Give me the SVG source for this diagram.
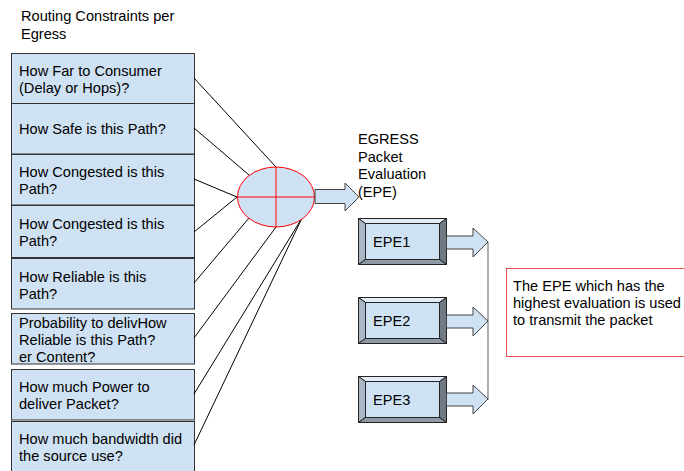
<svg xmlns="http://www.w3.org/2000/svg" width="684" height="471" viewBox="0 0 684 471">
<style>
text{font-family:"Liberation Sans",Arial,sans-serif;font-size:14.6px;fill:#000}
.box{fill:#cfe2f3;stroke:#333;stroke-width:1}
.con{stroke:#000;stroke-width:1;fill:none}
.arr{fill:#cfe2f3;stroke:#434343;stroke-width:1;stroke-linejoin:miter}
.bev{stroke:#222;stroke-width:1;stroke-linejoin:miter}
</style>
<defs>
<g id="bevel">
<rect x="0" y="0" width="88" height="46" fill="#cfe2f3"/>
<polygon class="bev" points="0,0 88,0 81,5 7,5" fill="#e3edf7"/>
<polygon class="bev" points="0,0 7,5 7,41 0,46" fill="#a9b6c3"/>
<polygon class="bev" points="88,0 88,46 81,41 81,5" fill="#6f7a85"/>
<polygon class="bev" points="0,46 7,41 81,41 88,46" fill="#8d99a5"/>
<rect x="7" y="5" width="74" height="36" fill="#cfe2f3" stroke="#222" stroke-width="1"/>
</g>
</defs>
<text x="21" y="20.5">Routing Constraints per</text>
<text x="21" y="38.5">Egress</text>
<g id="c1"><rect class="box" x="11.5" y="53.5" width="183" height="50"/><text x="19" y="76">How Far to Consumer</text><text x="19" y="93">(Delay or Hops)?</text></g>
<g id="c2"><rect class="box" x="11.5" y="103.5" width="183" height="50.5"/><text x="19" y="134">How Safe is this Path?</text></g>
<g id="c3"><rect class="box" x="11.5" y="154.5" width="183" height="50.5"/><text x="19" y="177">How Congested is this</text><text x="19" y="194">Path?</text></g>
<g id="c4"><rect class="box" x="11.5" y="205.5" width="183" height="52"/><text x="19" y="229">How Congested is this</text><text x="19" y="246">Path?</text></g>
<g id="c5"><rect class="box" x="11.5" y="258.5" width="183" height="50.5"/><text x="19" y="282">How Reliable is this</text><text x="19" y="299">Path?</text></g>
<g id="c6"><rect class="box" x="11.5" y="313.5" width="183" height="50.5"/><text x="19" y="328">Probability to delivHow</text><text x="19" y="345">Reliable is this Path?</text><text x="19" y="362">er Content?</text></g>
<g id="c7"><rect class="box" x="11.5" y="369.5" width="183" height="50.5"/><text x="19" y="392">How much Power to</text><text x="19" y="409">deliver Packet?</text></g>
<g id="c8"><rect class="box" x="11.5" y="421.5" width="183" height="55"/><text x="19" y="444">How much bandwidth did</text><text x="19" y="461">the source use?</text></g>
<g id="connectors">
<line class="con" x1="194" y1="78" x2="276" y2="167"/>
<line class="con" x1="194" y1="128" x2="249" y2="175"/>
<line class="con" x1="194" y1="179" x2="237" y2="197"/>
<line class="con" x1="194" y1="232" x2="237" y2="197"/>
<line class="con" x1="194" y1="283" x2="249" y2="218"/>
<line class="con" x1="194" y1="338" x2="276" y2="227"/>
<line class="con" x1="194" y1="394" x2="302" y2="218"/>
<line class="con" x1="194" y1="445" x2="302" y2="218"/>
<line x1="488" y1="242" x2="488" y2="400" stroke="#777" stroke-width="1.2"/>
</g>
<g id="hub">
<ellipse cx="276" cy="197" rx="38.5" ry="30" fill="#cfe2f3" stroke="#ff0000" stroke-width="1"/>
<line x1="276" y1="167" x2="276" y2="227" stroke="#ff0000"/>
<line x1="237.5" y1="197" x2="314.5" y2="197" stroke="#ff0000"/>
</g>
<g id="arrow0"><polygon class="arr" points="315,189.5 345,189.5 345,183 359,197 345,211 345,203.5 315,203.5"/></g>
<g id="egress"><text x="358" y="144">EGRESS</text><text x="358" y="161.5">Packet</text><text x="358" y="179">Evaluation</text><text x="358" y="196.5">(EPE)</text></g>
<g id="epe1"><use href="#bevel" x="358.5" y="218.5"/><text x="373" y="247">EPE1</text></g>
<g id="epe2"><use href="#bevel" x="358.5" y="297.5"/><text x="373" y="326">EPE2</text></g>
<g id="epe3"><use href="#bevel" x="358.5" y="376.5"/><text x="373" y="405">EPE3</text></g>
<g id="a1"><polygon class="arr" points="446.5,236 473,236 473,228 488,242 473,257 473,249 446.5,249"/></g>
<g id="a2"><polygon class="arr" points="446.5,315 473,315 473,307 488,321 473,336 473,328 446.5,328"/></g>
<g id="a3"><polygon class="arr" points="446.5,393 473,393 473,385 488,399 473,414 473,406 446.5,406"/></g>
<g id="note"><rect x="506.5" y="268.5" width="190" height="88" fill="#fff" stroke="#ea5050" stroke-width="1"/>
<text x="513" y="291">The EPE which has the</text><text x="513" y="308">highest evaluation is used</text><text x="513" y="325">to transmit the packet</text></g>
</svg>
